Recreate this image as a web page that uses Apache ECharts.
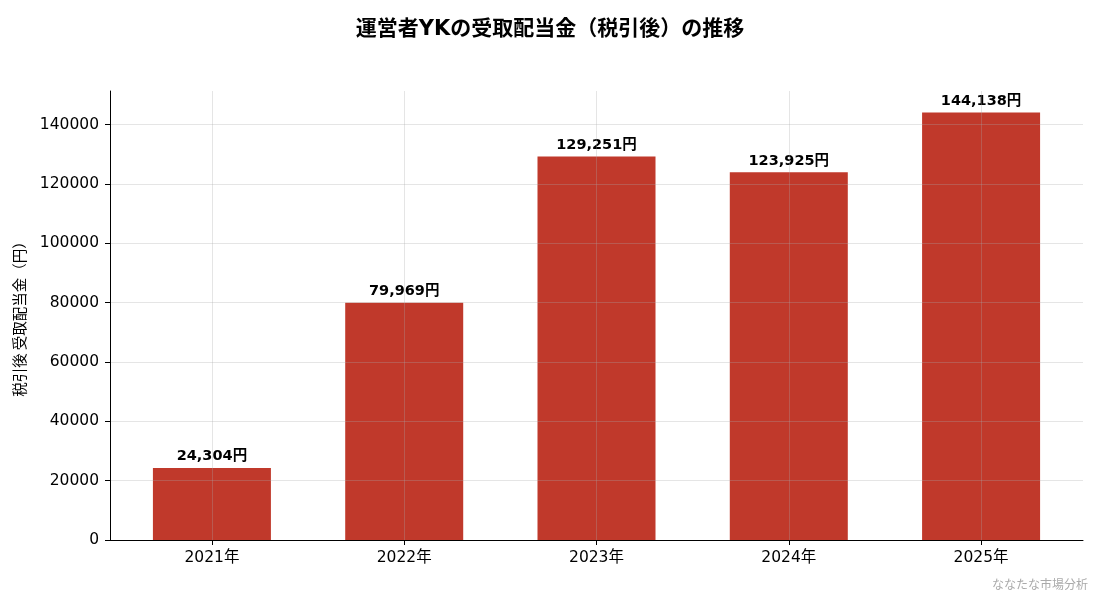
<!DOCTYPE html>
<html><head><meta charset="utf-8">
<script src="https://cdn.jsdelivr.net/npm/echarts@6/dist/echarts.min.js"></script>
<style>html,body{margin:0;padding:0;background:#fff}#c{width:1100px;height:594px}</style>
</head><body><div id="c"></div>
<script>
const categories = ['2021年','2022年','2023年','2024年','2025年'];
const values = [24304, 79969, 129251, 123925, 144138];
const yTicks = [0,20000,40000,60000,80000,100000,120000,140000];
const titleText = '運営者YKの受取配当金（税引後）の推移';
const yName = '税引後 受取配当金（円）';
const watermark = 'ななたな市場分析';

const FONT = '"DejaVu Sans", "Noto Sans CJK JP", sans-serif';
const CJK = '"Noto Sans CJK JP", sans-serif';
const chart = echarts.init(document.getElementById('c'));
const xIdx = categories.map((_, i) => i);
chart.setOption({
  animation: false,
  textStyle: { fontFamily: FONT },
  title: { text: titleText, left: 'center', top: 14,
    textStyle: { fontFamily: FONT, fontSize: 21, fontWeight: 'bold', color: '#000' } },
  grid: { left: 110, right: 17, top: 91, bottom: 54 },
  xAxis: {
    type: 'value', min: -0.53, max: 4.53, z: 3,
    axisLine: { show: true, onZero: false, lineStyle: { color: '#000', width: 1 } },
    axisTick: { show: true, customValues: xIdx, length: 5, lineStyle: { color: '#000' } },
    axisLabel: { customValues: xIdx, color: '#000', fontSize: 15.5, margin: 10,
      formatter: v => categories[Math.round(v)] },
    splitLine: { show: true, lineStyle: { color: 'rgba(170,170,170,0.3)', width: 1 } }
  },
  yAxis: {
    type: 'value', min: 0, max: 151345, z: 3,
    name: yName, nameLocation: 'middle', nameGap: 83, nameRotate: 90,
    nameTextStyle: { color: '#000', fontSize: 14.5, fontFamily: CJK },
    axisLine: { show: true, onZero: false, lineStyle: { color: '#000', width: 1 } },
    axisTick: { show: true, customValues: yTicks, length: 5, lineStyle: { color: '#000' } },
    axisLabel: { customValues: yTicks, color: '#000', fontSize: 15.5, margin: 11,
      formatter: v => String(v) },
    splitLine: { show: true, lineStyle: { color: 'rgba(170,170,170,0.3)', width: 1 } }
  },
  series: [{
    type: 'bar', barWidth: 118, z: 2,
    data: values.map((v, i) => [i, v]),
    itemStyle: { color: '#c0392b' },
    label: { show: true, position: 'top', distance: 4, color: '#000', fontSize: 14.5, fontWeight: 'bold',
      fontFamily: FONT, formatter: p => p.value[1].toLocaleString('en-US') + '円' }
  }],
  graphic: [{ type: 'text', right: 12, bottom: 4,
    style: { text: watermark, fill: '#aaaaaa', fontSize: 12, fontFamily: CJK } }]
});
</script></body></html>
